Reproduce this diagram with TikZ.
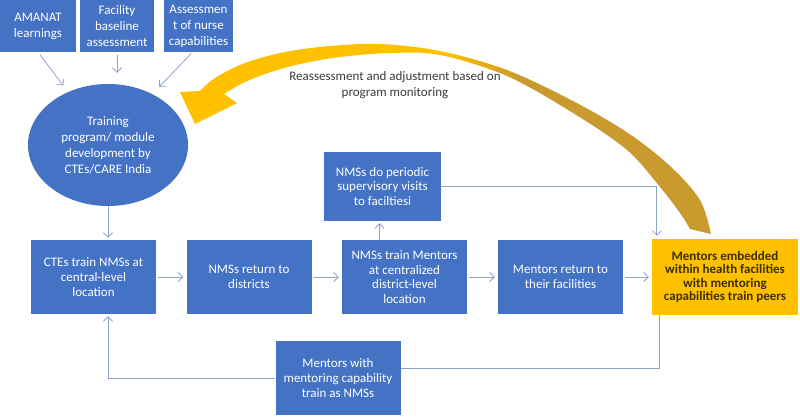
\documentclass[tikz,border=0pt]{standalone}
\usepackage{fontspec}
\setmainfont{Carlito}
\usetikzlibrary{arrows.meta,shapes.geometric}
\definecolor{boxblue}{HTML}{4472C4}
\definecolor{boxyellow}{HTML}{FFC000}
\definecolor{linec}{HTML}{8FA3C7}
\definecolor{ay}{HTML}{FFC000}
\definecolor{ag}{HTML}{C99A2E}
\definecolor{ytext}{HTML}{3B2F05}
\definecolor{labtext}{HTML}{3A3A3A}
\pgfdeclarehorizontalshading{bigarrowshade}{100bp}{color(0bp)=(ay); color(50bp)=(ay); color(57bp)=(ag); color(100bp)=(ag)}
\begin{document}
\begin{tikzpicture}[x=1pt,y=-1pt,
  bluebox/.style={rectangle, fill=boxblue, text=white, align=center, inner sep=0pt,
    font=\fontsize{13}{14.6}\selectfont},
  topbox/.style={bluebox, font=\fontsize{13}{16}\selectfont, minimum height=52pt},
  rowbox/.style={bluebox, minimum width=125pt, minimum height=74pt},
  ybox/.style={rectangle, fill=boxyellow, text=ytext, align=center, inner sep=0pt,
    font=\fontsize{13}{13.4}\selectfont\bfseries},
  conn/.style={draw=linec, line width=0.8pt, -{Straight Barb[length=4.5pt,width=9pt]}},
  plain/.style={draw=linec, line width=0.8pt}]
\useasboundingbox (0,0) rectangle (800,417);

% big curved feedback arrow
\shade[shading=bigarrowshade]
  plot[smooth, tension=0.55] coordinates {(711,234) (700,200) (670,166) (628,133) (573,101) (507,70) (440,51) (380,44) (330,46) (285,52) (245,63) (215,78) (200,91)}
  -- (180,92) -- (195,124) -- (237,103)
  -- plot[smooth, tension=0.55] coordinates {(224,94) (243,83) (268,73) (300,64) (340,57) (390,53) (440,55) (507,76) (573,113) (627,150) (660,187) (680,213) (690,229)}
  -- cycle;

% nodes
\node[topbox, minimum width=76pt] (amanat) at (38,26) {AMANAT\\learnings};
\node[topbox, minimum width=74pt] (facility) at (117,26) {Facility\\baseline\\assessment};
\node[topbox, minimum width=69pt] (assess) at (198.5,26) {Assessmen\\t of nurse\\capabilities};
\node[ellipse, fill=boxblue, text=white, minimum width=160pt, minimum height=122pt, inner sep=0pt,
  align=center, font=\fontsize{13}{16}\selectfont] (circ) at (108,145)
  {Training\\program/ module\\development by\\CTEs/CARE India};

\node[rowbox] (ctes) at (93.5,277) {CTEs train NMSs at\\central-level\\location};
\node[rowbox] (nret) at (249,277) {NMSs return to\\districts};
\node[rowbox] (ntrain) at (404.5,277) {NMSs train Mentors\\at centralized\\district-level\\location};
\node[rowbox] (mret) at (560.5,277) {Mentors return to\\their facilities};
\node[ybox, minimum width=146pt, minimum height=76pt] (ment) at (725,277)
  {Mentors embedded\\within health facilities\\with mentoring\\capabilities train peers};
\node[bluebox, minimum width=117pt, minimum height=69pt] (period) at (382.5,186.5)
  {NMSs do periodic\\supervisory visits\\to faciltiesi};
\node[rowbox] (bot) at (338,378) {Mentors with\\mentoring capability\\train as NMSs};

\node[align=center, text=labtext, font=\fontsize{13}{16}\selectfont] (lab) at (395,85)
  {Reassessment and adjustment based on\\program monitoring};

% connectors
\draw[conn, shorten <=3pt, shorten >=8pt] (amanat.south) -- (circ.127);
\draw[conn, shorten <=3pt, shorten >=11pt] (facility.south) -- (facility.south |- circ.north);
\draw[conn, shorten <=2pt, shorten >=10pt] ([xshift=-6pt]assess.south) -- (circ.49);
\draw[conn, shorten >=2pt] (circ.south) -- (circ.south |- ctes.north);
\draw[conn, shorten <=2pt, shorten >=3pt] (ctes.east) -- (nret.west);
\draw[conn, shorten <=2pt, shorten >=3pt] (nret.east) -- (ntrain.west);
\draw[conn, shorten <=2pt, shorten >=3pt] (ntrain.east) -- (mret.west);
\draw[conn, shorten <=2pt, shorten >=3pt] (mret.east) -- (ment.west);
\draw[conn, shorten >=2pt] ([xshift=-3pt]ntrain.north -| period.south) -- ([xshift=-3pt]period.south);
\draw[conn, shorten >=3pt] (period.east) -| ([xshift=5pt]ment.north west);
\draw[plain] ([xshift=8pt]ment.south west) |- ([yshift=10pt]bot.east);
\draw[conn, shorten >=2pt] (bot.west) -| (circ.south |- ctes.south);
\end{tikzpicture}
\end{document}
